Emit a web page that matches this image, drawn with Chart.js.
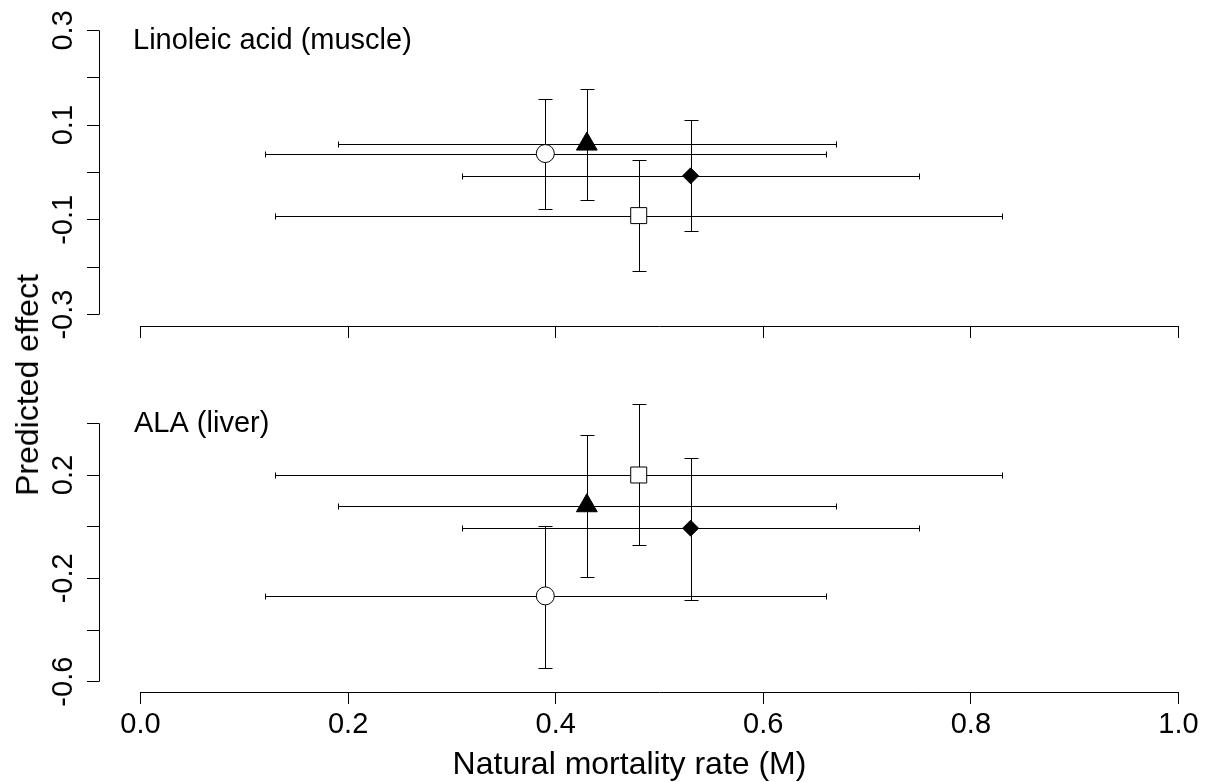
<!DOCTYPE html>
<html>
<head>
<meta charset="utf-8">
<script src="https://cdn.jsdelivr.net/npm/chart.js@4.4.1/dist/chart.umd.min.js"></script>
<style>
    html, body { margin: 0; padding: 0; background: #fff; }
    #wrap { position: relative; width: 1207px; height: 782px; overflow: hidden; font-family: 'Liberation Sans', Arial, sans-serif; }
    canvas { position: absolute; left: 0; }
    .axis-title { position: absolute; font-size: 32px; line-height: 32px; white-space: nowrap; color: #000; }
</style>
</head>
<body>
<div id="wrap">
    <canvas id="linoleicChart" width="1207" height="345" style="top:0"></canvas>
    <canvas id="alaChart" width="1207" height="437" style="top:345px"></canvas>
    <div class="axis-title" style="left:26.5px; top:384.5px; transform: translate(-50%, -50%) rotate(-90deg);">Predicted effect</div>
    <div class="axis-title" style="left:629.5px; top:747px; transform: translateX(-50%);">Natural mortality rate (M)</div>
</div>
<script>
// shared x values (natural mortality, M) with their intervals
const mortality = [0.39, 0.43, 0.48, 0.53];
const mortalityLow = [0.12, 0.19, 0.13, 0.31];
const mortalityHigh = [0.66, 0.67, 0.83, 0.75];
const xTicks = [0, 0.2, 0.4, 0.6, 0.8, 1.0];

// top panel: linoleic acid (muscle)
const linoleicEffect = [0.04, 0.06, -0.091, -0.007];
const linoleicLow = [-0.078, -0.058, -0.208, -0.124];
const linoleicHigh = [0.156, 0.177, 0.026, 0.11];
const linoleicTicks = [-0.3, -0.2, -0.1, 0, 0.1, 0.2, 0.3];
const linoleicTickLabels = [-0.3, -0.1, 0.1, 0.3];

// bottom panel: ALA (liver)
const alaEffect = [-0.268, 0.081, 0.2, -0.006];
const alaLow = [-0.546, -0.196, -0.072, -0.285];
const alaHigh = [0.004, 0.355, 0.474, 0.266];
const alaTicks = [-0.6, -0.4, -0.2, 0, 0.2, 0.4];
const alaTickLabels = [-0.6, -0.2, 0.2];

const markerStyle = ['circle', 'triangle', 'rect', 'rectRot'];
const markerRadius = [9, 12, 11.3, 8];
const markerFill = ['#fff', '#000', '#fff', '#000'];

Chart.defaults.font.family = "'Liberation Sans', Arial, sans-serif";
Chart.defaults.color = '#000';

// snap to half pixels so 1px lines stay crisp like the R device
const crisp = v => Math.round(v) + 0.5;

function makePanel(canvasId, cfg) {
    const points = mortality.map((m, i) => ({ x: m, y: cfg.effect[i] }));

    // error bars under the markers, R-style axis lines and the panel label on top
    const panelPlugin = {
        id: 'panelExtras',
        beforeDatasetsDraw(chart) {
            const { ctx, scales: { x, y } } = chart;
            ctx.save();
            ctx.strokeStyle = '#000';
            ctx.lineWidth = 1;
            cfg.effect.forEach((v, i) => {
                const px = crisp(x.getPixelForValue(mortality[i]));
                const py = crisp(y.getPixelForValue(v));
                const x1 = crisp(x.getPixelForValue(mortalityLow[i]));
                const x2 = crisp(x.getPixelForValue(mortalityHigh[i]));
                const y1 = crisp(y.getPixelForValue(cfg.low[i]));
                const y2 = crisp(y.getPixelForValue(cfg.high[i]));
                ctx.beginPath();
                ctx.moveTo(x1, py); ctx.lineTo(x2, py);
                ctx.moveTo(x1, py - 3); ctx.lineTo(x1, py + 3);
                ctx.moveTo(x2, py - 3); ctx.lineTo(x2, py + 3);
                ctx.moveTo(px, y1); ctx.lineTo(px, y2);
                ctx.moveTo(px - 7, y1); ctx.lineTo(px + 7, y1);
                ctx.moveTo(px - 7, y2); ctx.lineTo(px + 7, y2);
                ctx.stroke();
            });
            ctx.restore();
        },
        afterDraw(chart) {
            const { ctx, chartArea, scales: { x, y } } = chart;
            ctx.save();
            ctx.strokeStyle = '#000';
            ctx.lineWidth = 1;
            const bx = crisp(chartArea.left);
            const by = crisp(chartArea.bottom);
            ctx.beginPath();
            ctx.moveTo(x.getPixelForValue(xTicks[0]), by);
            ctx.lineTo(x.getPixelForValue(xTicks[xTicks.length - 1]), by);
            ctx.moveTo(bx, y.getPixelForValue(cfg.ticks[0]));
            ctx.lineTo(bx, y.getPixelForValue(cfg.ticks[cfg.ticks.length - 1]));
            ctx.stroke();
            ctx.font = "29px 'Liberation Sans', Arial, sans-serif";
            ctx.fillStyle = '#000';
            ctx.textBaseline = 'alphabetic';
            ctx.fillText(cfg.label, cfg.labelX, cfg.labelY);
            ctx.restore();
        }
    };

    return new Chart(document.getElementById(canvasId), {
        type: 'scatter',
        data: {
            datasets: [{
                label: cfg.label,
                data: points,
                pointStyle: markerStyle,
                pointRadius: markerRadius,
                pointHoverRadius: markerRadius,
                pointBackgroundColor: markerFill,
                pointBorderColor: '#000',
                pointBorderWidth: 1
            }, {
                // small centre dot inside the open markers
                label: 'centre',
                data: points,
                pointStyle: 'circle',
                pointRadius: markerFill.map(f => f === '#fff' ? 1.2 : 0),
                pointBackgroundColor: '#000',
                pointBorderWidth: 0
            }]
        },
        options: {
            responsive: false,
            animation: false,
            layout: { padding: { top: cfg.padTop, right: 7, left: 0, bottom: 0 } },
            scales: {
                x: {
                    type: 'linear',
                    min: -0.04,
                    max: 1.015,
                    afterBuildTicks: s => { s.ticks = xTicks.map(v => ({ value: v })); },
                    afterFit: s => { s.height = cfg.xHeight; },
                    border: { display: false },
                    grid: { drawOnChartArea: false, drawTicks: true, tickLength: 12, color: '#000', lineWidth: 1 },
                    ticks: {
                        display: cfg.showX,
                        autoSkip: false,
                        maxRotation: 0,
                        padding: 4,
                        font: { size: 29 },
                        callback: v => v.toFixed(1)
                    }
                },
                y: {
                    type: 'linear',
                    min: cfg.yMin,
                    max: cfg.yMax,
                    afterBuildTicks: s => { s.ticks = cfg.ticks.map(v => ({ value: v })); },
                    afterFit: s => { s.width = 99; },
                    border: { display: false },
                    grid: { drawOnChartArea: false, drawTicks: true, tickLength: 12, color: '#000', lineWidth: 1 },
                    ticks: {
                        autoSkip: false,
                        minRotation: 90,
                        maxRotation: 90,
                        crossAlign: 'center',
                        padding: -2,
                        font: { size: 29 },
                        callback: v => cfg.tickLabels.some(t => Math.abs(t - v) < 1e-9) ? v.toFixed(1) : ''
                    }
                }
            },
            plugins: {
                legend: { display: false },
                tooltip: { enabled: false }
            }
        },
        plugins: [panelPlugin]
    });
}

makePanel('linoleicChart', {
    label: 'Linoleic acid (muscle)',
    effect: linoleicEffect, low: linoleicLow, high: linoleicHigh,
    ticks: linoleicTicks, tickLabels: linoleicTickLabels,
    yMin: -0.324, yMax: 0.324,
    padTop: 19, xHeight: 19, showX: false,
    labelX: 133, labelY: 49
});

makePanel('alaChart', {
    label: 'ALA (liver)',
    effect: alaEffect, low: alaLow, high: alaHigh,
    ticks: alaTicks, tickLabels: alaTickLabels,
    yMin: -0.64, yMax: 0.44,
    padTop: 68, xHeight: 90, showX: true,
    labelX: 134, labelY: 87
});
</script>
</body>
</html>
